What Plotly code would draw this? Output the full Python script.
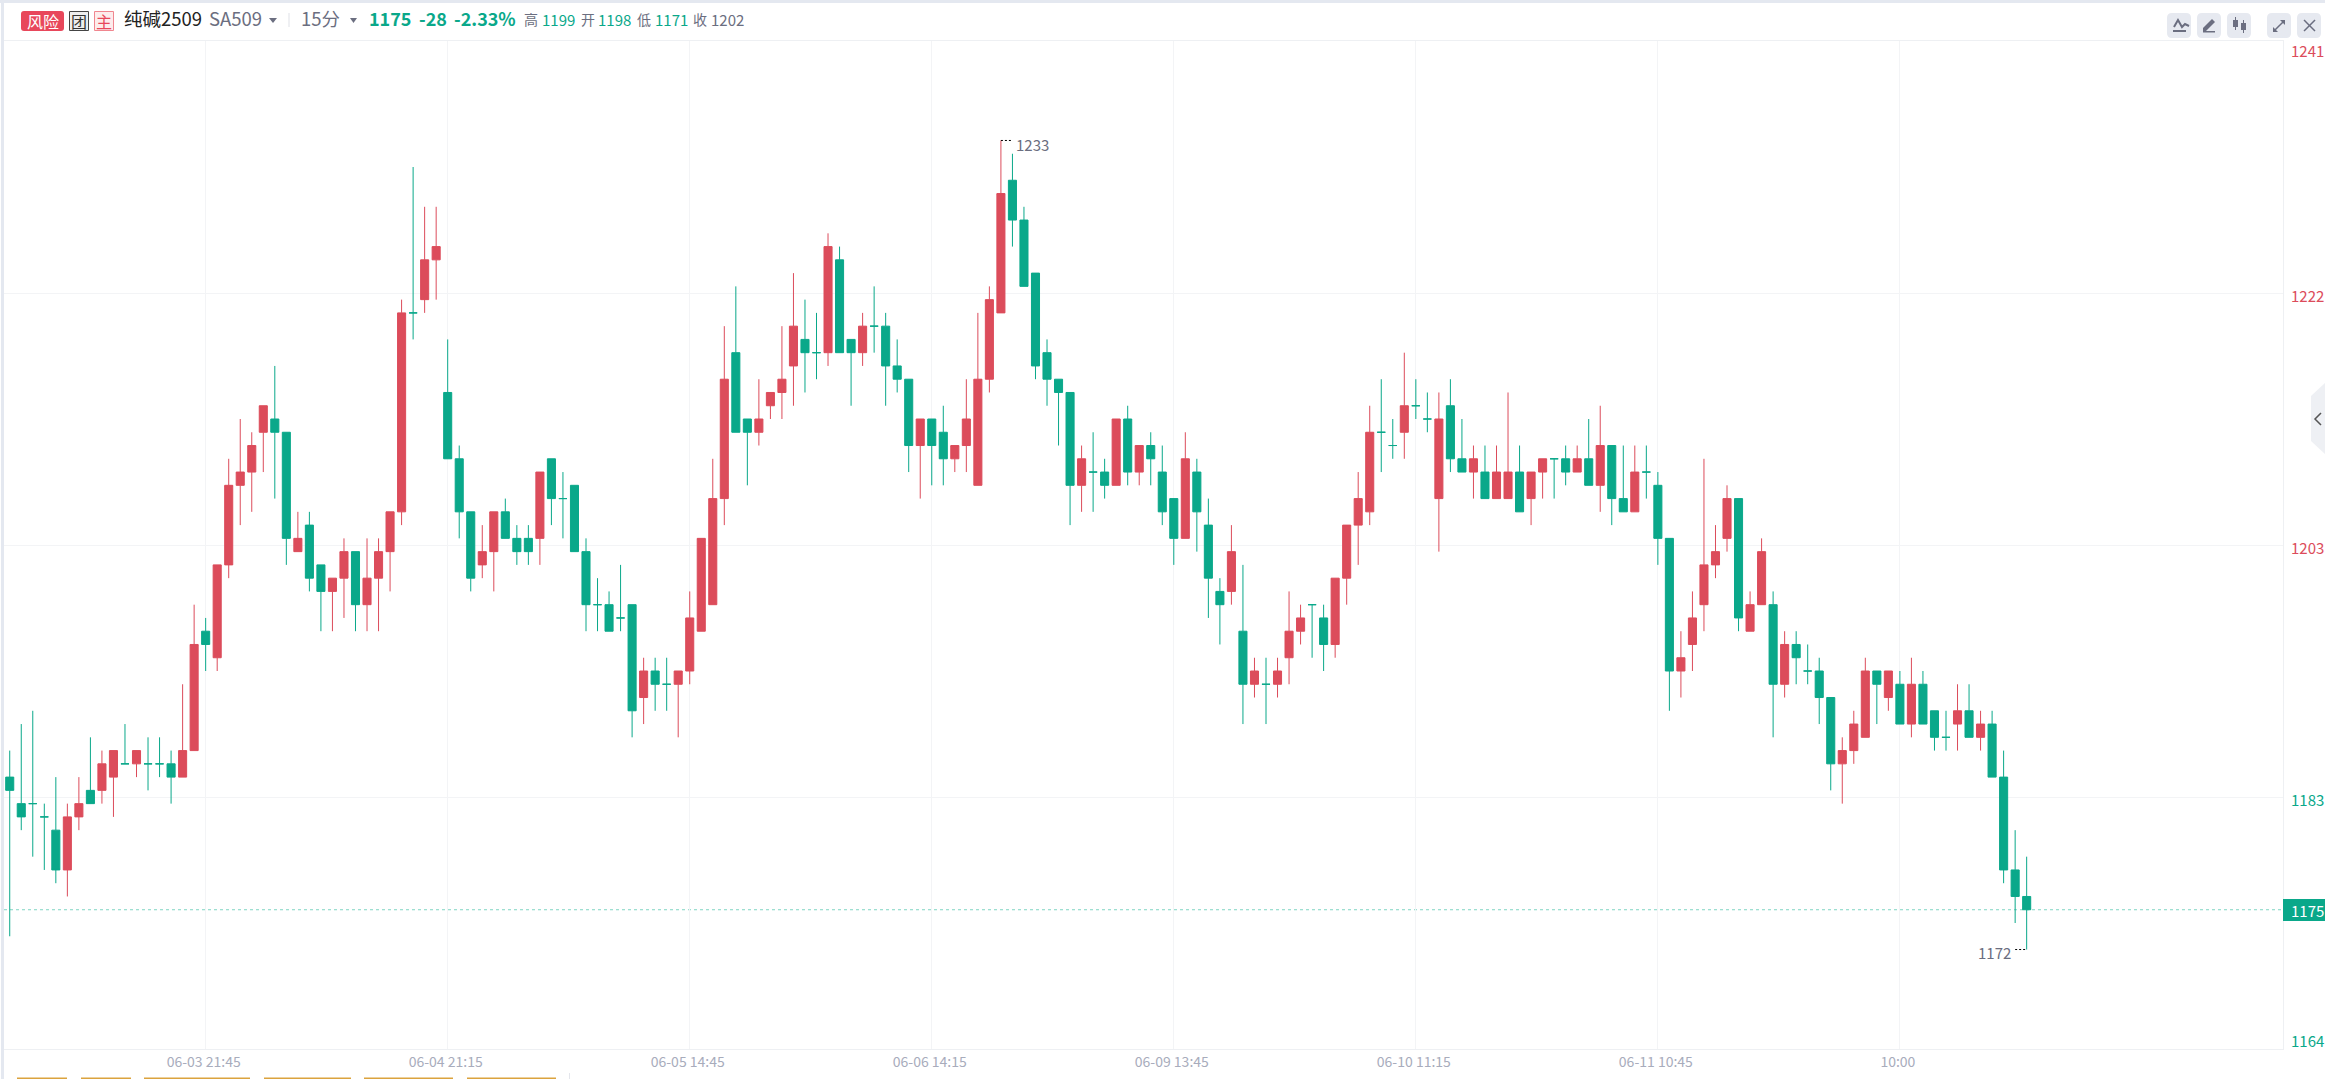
import plotly.graph_objects as go

# 15 minute bars
opens = [
    1185, 1183, 1183, 1182, 1181, 1178, 1182, 1184, 1184, 1185,
    1186, 1186, 1186, 1186, 1186, 1185, 1187, 1196, 1194, 1201,
    1207, 1208, 1211, 1212, 1211, 1202, 1204, 1201, 1199, 1200,
    1202, 1198, 1200, 1202, 1205, 1220, 1221, 1224, 1214, 1209,
    1205, 1201, 1202, 1205, 1203, 1203, 1203, 1209, 1206, 1207,
    1202, 1198, 1198, 1197, 1198, 1191, 1193, 1192, 1192, 1193,
    1196, 1198, 1206, 1217, 1212, 1211, 1213, 1214, 1216, 1218,
    1217, 1217, 1224, 1218, 1217, 1219, 1219, 1216, 1215, 1210,
    1212, 1211, 1209, 1210, 1207, 1215, 1220, 1230, 1227, 1223,
    1217, 1215, 1214, 1207, 1208, 1208, 1207, 1212, 1208, 1210,
    1208, 1206, 1203, 1208, 1204, 1199, 1199, 1196, 1192, 1192,
    1192, 1194, 1196, 1198, 1197, 1195, 1200, 1204, 1205, 1211,
    1210, 1211, 1213, 1212, 1206, 1213, 1209, 1208, 1208, 1206,
    1206, 1208, 1206, 1208, 1209, 1209, 1208, 1209, 1207, 1210,
    1206, 1205, 1208, 1207, 1203, 1193, 1195, 1198, 1201, 1203,
    1206, 1196, 1198, 1198, 1192, 1195, 1193, 1193, 1191, 1186,
    1187, 1188, 1193, 1191, 1192, 1189, 1192, 1190, 1188, 1189,
    1190, 1188, 1189, 1185, 1178, 1176,
]
closes = [
    1184, 1182, 1183, 1182, 1178, 1182, 1183, 1183, 1186, 1187,
    1186, 1187, 1186, 1186, 1185, 1187, 1195, 1195, 1201, 1207,
    1208, 1210, 1213, 1211, 1203, 1203, 1200, 1199, 1200, 1202,
    1198, 1200, 1202, 1205, 1220, 1220, 1224, 1225, 1209, 1205,
    1200, 1202, 1205, 1203, 1202, 1202, 1208, 1206, 1206, 1202,
    1198, 1198, 1196, 1197, 1190, 1193, 1192, 1192, 1193, 1197,
    1203, 1206, 1215, 1211, 1211, 1212, 1214, 1215, 1219, 1217,
    1217, 1225, 1217, 1217, 1219, 1219, 1216, 1215, 1210, 1212,
    1210, 1209, 1210, 1212, 1215, 1221, 1229, 1227, 1222, 1216,
    1215, 1214, 1207, 1209, 1208, 1207, 1212, 1208, 1210, 1209,
    1205, 1203, 1209, 1205, 1200, 1198, 1202, 1192, 1193, 1192,
    1193, 1196, 1197, 1198, 1195, 1200, 1204, 1206, 1211, 1211,
    1210, 1213, 1213, 1212, 1212, 1209, 1208, 1209, 1206, 1208,
    1208, 1205, 1208, 1209, 1209, 1208, 1209, 1207, 1210, 1206,
    1205, 1208, 1208, 1203, 1193, 1194, 1197, 1201, 1202, 1206,
    1197, 1198, 1202, 1192, 1195, 1194, 1193, 1191, 1186, 1187,
    1189, 1193, 1192, 1193, 1189, 1192, 1189, 1188, 1188, 1190,
    1188, 1189, 1185, 1178, 1176, 1175,
]
highs = [
    1187, 1189, 1190, 1183, 1185, 1183, 1185, 1188, 1187, 1187,
    1189, 1187, 1188, 1188, 1187, 1192, 1198, 1197, 1201, 1209,
    1212, 1211, 1213, 1216, 1211, 1205, 1205, 1201, 1200, 1203,
    1202, 1203, 1203, 1205, 1221, 1231, 1228, 1228, 1218, 1210,
    1205, 1204, 1205, 1206, 1204, 1204, 1208, 1209, 1208, 1207,
    1203, 1200, 1199, 1201, 1198, 1194, 1194, 1194, 1193, 1199,
    1203, 1209, 1219, 1222, 1212, 1215, 1214, 1219, 1223, 1221,
    1220, 1226, 1225, 1218, 1220, 1222, 1220, 1218, 1215, 1212,
    1212, 1213, 1210, 1215, 1220, 1222, 1233, 1232, 1228, 1223,
    1218, 1215, 1214, 1210, 1211, 1209, 1212, 1213, 1210, 1211,
    1210, 1206, 1211, 1209, 1206, 1200, 1204, 1201, 1194, 1194,
    1194, 1199, 1198, 1198, 1198, 1200, 1204, 1208, 1213, 1215,
    1212, 1217, 1215, 1214, 1214, 1215, 1212, 1210, 1210, 1210,
    1214, 1210, 1208, 1209, 1209, 1210, 1210, 1212, 1213, 1210,
    1210, 1210, 1210, 1208, 1203, 1196, 1199, 1209, 1204, 1207,
    1206, 1199, 1203, 1199, 1196, 1196, 1195, 1194, 1191, 1188,
    1190, 1194, 1193, 1193, 1193, 1194, 1193, 1190, 1190, 1192,
    1192, 1190, 1190, 1187, 1181, 1179,
]
lows = [
    1173, 1181, 1179, 1178, 1177, 1176, 1181, 1183, 1183, 1182,
    1186, 1185, 1184, 1185, 1183, 1185, 1187, 1193, 1193, 1200,
    1204, 1205, 1208, 1206, 1201, 1202, 1199, 1196, 1196, 1197,
    1196, 1196, 1196, 1199, 1204, 1218, 1220, 1221, 1209, 1203,
    1199, 1200, 1199, 1203, 1201, 1201, 1201, 1204, 1203, 1202,
    1196, 1196, 1196, 1196, 1188, 1189, 1190, 1190, 1188, 1192,
    1196, 1198, 1204, 1211, 1207, 1210, 1212, 1212, 1213, 1214,
    1215, 1216, 1217, 1213, 1216, 1217, 1213, 1214, 1208, 1206,
    1207, 1207, 1208, 1208, 1207, 1214, 1220, 1225, 1222, 1215,
    1213, 1210, 1204, 1205, 1205, 1206, 1207, 1207, 1207, 1207,
    1204, 1201, 1203, 1202, 1197, 1195, 1198, 1189, 1191, 1189,
    1191, 1192, 1195, 1194, 1193, 1194, 1198, 1201, 1204, 1208,
    1209, 1209, 1212, 1211, 1202, 1208, 1208, 1206, 1206, 1206,
    1206, 1205, 1204, 1206, 1206, 1207, 1208, 1207, 1205, 1204,
    1205, 1205, 1206, 1201, 1190, 1191, 1193, 1196, 1200, 1202,
    1196, 1196, 1198, 1188, 1191, 1192, 1192, 1189, 1184, 1183,
    1186, 1188, 1189, 1190, 1189, 1188, 1189, 1187, 1187, 1187,
    1188, 1187, 1185, 1177, 1174, 1172,
]

# x axis labels sit on every 21st bar
x_tick_bars = [17, 38, 59, 80, 101, 122, 143, 164]
x_tick_text = ["06-03 21:45", "06-04 21:15", "06-05 14:45", "06-06 14:15",
               "06-09 13:45", "06-10 11:15", "06-11 10:45", "10:00"]
y_ticks = [1240.5, 1221.5, 1202.5, 1183.5, 1164.5]
y_tick_text = ["1241", "1222", "1203", "1183", "1164"]
last_price = 1175
high_bar, high_price = 86, 1233
low_bar, low_price = 175, 1172

RED = "#dc4c5b"
GREEN = "#0aa88a"
GREY = "#6b6e80"
GRID = "#f3f4f6"
FONT = "Noto Sans CJK SC"
W, H = 2325, 1079
PLOT_L, PLOT_R, PLOT_T, PLOT_B = 4, 2283, 41, 1049


def px(x):
    return x / W


def py(y):
    return 1 - y / H


def label(text, x, y, size=15, color=GREY, anchor="left", weight=400):
    return dict(
        text=text, x=px(x), y=py(y), xref="paper", yref="paper",
        xanchor=anchor, yanchor="middle", showarrow=False, borderpad=0, borderwidth=0,
        font=dict(family=FONT, size=size, color=color, weight=weight),
    )


def box(x0, y0, x1, y1, fill, line=None, layer="above"):
    return dict(
        type="rect", xref="paper", yref="paper", layer=layer,
        x0=px(x0), x1=px(x1), y0=py(y0), y1=py(y1), fillcolor=fill,
        line=dict(color=line or fill, width=1 if line else 0),
    )


def path(points, fill=None, line=None, width=1.5, close=True):
    d = "M " + " L ".join(f"{px(a):.5f},{py(b):.5f}" for a, b in points) + (" Z" if close else "")
    return dict(
        type="path", xref="paper", yref="paper", path=d,
        fillcolor=fill or "rgba(0,0,0,0)",
        line=dict(color=line or "rgba(0,0,0,0)", width=width if line else 0),
    )


def round_box(x0, y0, x1, y1, fill, r=5):
    d = (f"M {px(x0 + r):.5f},{py(y0):.5f} L {px(x1 - r):.5f},{py(y0):.5f} "
         f"Q {px(x1):.5f},{py(y0):.5f} {px(x1):.5f},{py(y0 + r):.5f} "
         f"L {px(x1):.5f},{py(y1 - r):.5f} Q {px(x1):.5f},{py(y1):.5f} {px(x1 - r):.5f},{py(y1):.5f} "
         f"L {px(x0 + r):.5f},{py(y1):.5f} Q {px(x0):.5f},{py(y1):.5f} {px(x0):.5f},{py(y1 - r):.5f} "
         f"L {px(x0):.5f},{py(y0 + r):.5f} Q {px(x0):.5f},{py(y0):.5f} {px(x0 + r):.5f},{py(y0):.5f} Z")
    return dict(type="path", xref="paper", yref="paper", path=d, fillcolor=fill, line=dict(width=0))


# split so that a flat bar (open == close) always stays green
bars = list(range(len(opens)))
up = [i for i in bars if closes[i] > opens[i]]
down = [i for i in bars if closes[i] <= opens[i]]

fig = go.Figure()
for idx, color in [(up, RED), (down, GREEN)]:
    fig.add_trace(go.Candlestick(
        x=idx,
        open=[opens[i] for i in idx],
        high=[highs[i] for i in idx],
        low=[lows[i] for i in idx],
        close=[closes[i] for i in idx],
        increasing=dict(line=dict(color=color, width=1), fillcolor=color),
        decreasing=dict(line=dict(color=color, width=1), fillcolor=color),
        whiskerwidth=0,
        hoverinfo="skip",
        showlegend=False,
    ))

shapes = [
    # page frame
    box(0, 0, W, 3, "#e4e8f0"),
    box(1, 0, 4, H, "#e4e8f0"),
    # last price
    dict(type="line", xref="paper", yref="y", layer="below", x0=px(PLOT_L), x1=px(PLOT_R),
         y0=last_price, y1=last_price, line=dict(color="#7fd6c3", width=1, dash="3px,3px")),
    box(PLOT_R, 899, W, 921, GREEN),
    # high and low markers
    dict(type="line", xref="x", yref="y", x0=high_bar, x1=high_bar + 1, y0=high_price, y1=high_price,
         line=dict(color="#000000", width=1, dash="2px,2px")),
    dict(type="line", xref="x", yref="y", x0=low_bar - 1, x1=low_bar, y0=low_price, y1=low_price,
         line=dict(color="#000000", width=1, dash="2px,2px")),
    # header badges
    round_box(21, 11, 64, 31, "#e8475b", r=3),
    box(69.5, 11.5, 88.5, 30.5, "#eeeeee", line="#444444"),
    box(94.5, 11.5, 113.5, 30.5, "#fdecec", line="#f0868f"),
    path([(269, 18), (277, 18), (273, 23)], fill=GREY),
    path([(350, 18), (357, 18), (353.5, 23)], fill=GREY),
    box(288.5, 13, 289.5, 27, "#dfe2e8"),
    # toolbar buttons
    round_box(2167, 13, 2191, 38, "#e6e9f0"),
    round_box(2197, 13, 2221, 38, "#e6e9f0"),
    round_box(2227, 13, 2251, 38, "#e6e9f0"),
    round_box(2267, 13, 2291, 38, "#e6e9f0"),
    round_box(2297, 13, 2321, 38, "#e6e9f0"),
    path([(2174, 27), (2178, 20), (2182, 27), (2185, 24), (2189, 26)], line=GREY, width=2, close=False),
    box(2173, 30, 2186, 32, GREY),
    path([(2203, 28), (2212, 19), (2215, 22), (2206, 31), (2203, 31)], fill=GREY),
    box(2203, 31, 2215, 32.5, GREY),
    box(2233, 20, 2238, 27, GREY),
    box(2235, 17, 2236, 30, GREY),
    box(2241, 23, 2246, 30, GREY),
    box(2243, 20, 2244, 33, GREY),
    path([(2274, 31), (2284, 21)], line=GREY, width=1.5, close=False),
    path([(2280, 20), (2285, 20), (2285, 25)], fill=GREY),
    path([(2273, 27), (2273, 32), (2278, 32)], fill=GREY),
    path([(2304, 20), (2315, 31)], line=GREY, width=1.5, close=False),
    path([(2315, 20), (2304, 31)], line=GREY, width=1.5, close=False),
    # side handle
    path([(W, 383), (2311, 396), (2311, 441), (W, 454)], fill="#eef0f4"),
    path([(2321, 413), (2315, 419), (2321, 425)], line="#555555", width=1.5, close=False),
    # bits of the next panel at the bottom edge
    box(569, 1073, 570, H, "#e4e6ec"),
]
for x0, x1 in [(17, 67), (81, 131), (144, 250), (264, 351), (364, 453), (467, 556)]:
    shapes.append(box(x0, 1077.5, x1, H, "#dba33e"))

annotations = [
    label("风险", 42.5, 21, size=16, color="#ffffff", anchor="center"),
    label("团", 79, 21, size=16, color="#333333", anchor="center"),
    label("主", 104, 21, size=16, color="#e8475b", anchor="center"),
    label("纯碱2509", 124, 18, size=18.5, color="#222222"),
    label("SA509", 209, 18, size=18.5),
    label("15分", 301, 18, size=18.5),
    label("1175", 369, 18, size=18, color=GREEN, weight=700),
    label("-28", 419, 18, size=18, color=GREEN, weight=700),
    label("-2.33%", 454, 18, size=18, color=GREEN, weight=700),
    label("高", 524, 19, size=14),
    label("1199", 542, 19, size=15, color=GREEN),
    label("开", 581, 19, size=14),
    label("1198", 598, 19, size=15, color=GREEN),
    label("低", 637, 19, size=14),
    label("1171", 655, 19, size=15, color=GREEN),
    label("收", 693, 19, size=14),
    label("1202", 711, 19, size=15),
    label("1175", 2291, 910, color="#ffffff"),
    label("1233", 1016, 145),
    label("1172", 1978, 952),
]
# price labels: clamped inside the plot at both ends, a little under the grid line elsewhere
for value, text, y_px in zip(y_ticks, y_tick_text, [51, 295.5, 547.5, 799.5, 1040]):
    annotations.append(label(text, 2291, y_px, color=RED if value > 1202 else GREEN))

fig.update_layout(
    width=W,
    height=H,
    margin=dict(l=0, r=0, t=0, b=0),
    paper_bgcolor="#ffffff",
    plot_bgcolor="#ffffff",
    boxgap=0.3,
    boxgroupgap=0,
    shapes=shapes,
    annotations=annotations,
    hovermode=False,
    xaxis=dict(
        domain=[px(PLOT_L), px(PLOT_R)],
        range=[-0.497, 197.24],
        rangeslider=dict(visible=False),
        tickmode="array",
        tickvals=x_tick_bars,
        ticktext=x_tick_text,
        tickfont=dict(family=FONT, size=14, color="#a8acbc"),
        ticklabelshift=-2,
        showgrid=True,
        gridcolor=GRID,
        gridwidth=1,
        ticks="",
        zeroline=False,
        showline=True,
        linecolor="#eef0f3",
        linewidth=1,
        mirror=True,
    ),
    yaxis=dict(
        domain=[py(PLOT_B), py(PLOT_T)],
        range=[y_ticks[-1], y_ticks[0]],
        side="right",
        tickmode="array",
        tickvals=y_ticks,
        showticklabels=False,
        showgrid=True,
        gridcolor=GRID,
        gridwidth=1,
        ticks="",
        zeroline=False,
        showline=True,
        linecolor="#eef0f3",
        linewidth=1,
    ),
)

fig.write_html("out.html", config=dict(displayModeBar=False),
               post_script="document.body.style.margin='0';")
